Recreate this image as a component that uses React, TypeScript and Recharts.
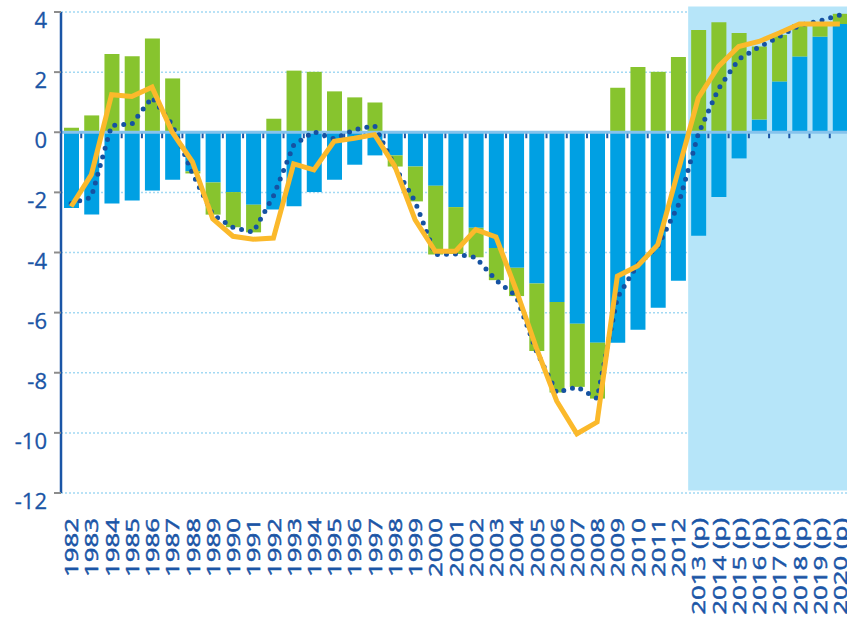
import React from 'react';
import {
  ComposedChart, Bar, Line, XAxis, YAxis, CartesianGrid, ReferenceArea, ReferenceLine,
} from 'recharts';

// categories
const YEARS = [
  '1982', '1983', '1984', '1985', '1986', '1987', '1988', '1989', '1990', '1991',
  '1992', '1993', '1994', '1995', '1996', '1997', '1998', '1999', '2000', '2001',
  '2002', '2003', '2004', '2005', '2006', '2007', '2008', '2009', '2010', '2011',
  '2012', '2013 (p)', '2014 (p)', '2015 (p)', '2016 (p)', '2017 (p)', '2018 (p)',
  '2019 (p)', '2020 (p)',
];

// blue bars
const BLUE = [
  -2.52, -2.74, -2.37, -2.27, -1.94, -1.58, -1.3, -1.67, -1.99, -2.41,
  -2.57, -2.46, -1.99, -1.58, -1.08, -0.77, -0.77, -1.14, -1.78, -2.49,
  -3.18, -3.85, -4.51, -5.03, -5.65, -6.37, -7.0, -7.0, -6.57, -5.84,
  -4.94, -3.44, -2.15, -0.87, 0.42, 1.69, 2.52, 3.18, 3.6,
];

// green bars (stacked on blue)
const GREEN = [
  0.15, 0.56, 2.6, 2.53, 3.12, 1.79, -0.07, -1.07, -1.17, -0.92,
  0.45, 2.05, 2.01, 1.36, 1.16, 0.99, -0.37, -1.16, -2.29, -1.56,
  -0.98, -1.07, -0.94, -2.25, -3.01, -2.1, -1.86, 1.48, 2.17, 2.01,
  2.5, 3.4, 3.66, 3.3, 2.43, 1.55, 1.08, 0.45, 0.34,
];

// dotted dark blue line
const DOTTED = [
  -2.37, -2.16, 0.23, 0.27, 1.16, 0.25, -1.37, -2.74, -3.16, -3.33,
  -2.12, -0.43, 0.02, -0.22, 0.08, 0.22, -1.14, -2.3, -4.07, -4.05,
  -4.16, -4.92, -5.45, -7.28, -8.66, -8.47, -8.86, -5.5, -4.4, -3.8,
  -2.45, -0.06, 1.45, 2.43, 2.83, 3.18, 3.56, 3.7, 3.9,
];

// yellow line
const YELLOW = [
  -2.47, -1.41, 1.25, 1.19, 1.5, 0.0, -0.99, -2.88, -3.46, -3.56,
  -3.52, -1.05, -1.25, -0.3, -0.2, -0.08, -1.13, -2.91, -3.96, -3.96,
  -3.24, -3.48, -5.25, -7.18, -8.94, -10.03, -9.64, -4.79, -4.45, -3.74,
  -1.3, 1.14, 2.19, 2.85, 3.02, 3.3, 3.6, 3.6, 3.6,
];

const Y_TICKS = [4, 2, 0, -2, -4, -6, -8, -10, -12];

const data = YEARS.map((year, i) => ({
  year,
  blue: BLUE[i],
  green: GREEN[i],
  dotted: DOTTED[i],
  yellow: YELLOW[i],
}));

const TEXT_BLUE = '#1a55a6';
const FONT = '"Open Sans", sans-serif';

const YearTick = (props: any) => {
  const { x, y, payload } = props;
  return (
    <g transform={`translate(${x},${y + 17}) rotate(-90) scale(1.36,1)`}>
      <text
        textAnchor="end"
        dominantBaseline="central"
        fill={TEXT_BLUE}
        stroke={TEXT_BLUE}
        strokeWidth={0.5}
        fontSize={19}
        fontFamily={FONT}
      >
        {payload.value}
      </text>
    </g>
  );
};

const ValueTick = (props: any) => {
  const { x, y, payload } = props;
  return (
    <text
      x={x}
      y={y + 7}
      textAnchor="end"
      dominantBaseline="central"
      fill={TEXT_BLUE}
      stroke={TEXT_BLUE}
      strokeWidth={0.3}
      fontSize={22}
      fontFamily={FONT}
    >
      {payload.value}
    </text>
  );
};

// zero line with small ticks at every category boundary
const ZeroLine = (props: any) => {
  const { x1, x2, y1 } = props;
  const band = (x2 - x1) / YEARS.length;
  const marks = [];
  for (let i = 1; i < YEARS.length; i++) {
    const x = x1 + band * i;
    marks.push(<line key={i} x1={x} x2={x} y1={y1} y2={y1 + 6} stroke="#1a55a6" strokeWidth={2} />);
  }
  return (
    <g>
      {marks}
      <line x1={x1} x2={x2} y1={y1} y2={y1} stroke="#86c3ec" strokeWidth={3} />
    </g>
  );
};

export default function App() {
  return (
    <div style={{ position: 'absolute', left: 0, top: 0, width: 847, height: 620, overflow: 'hidden', background: '#fff' }}>
      <ComposedChart
        width={850}
        height={620}
        data={data}
        stackOffset="sign"
        barSize={15}
        margin={{ top: 12, right: 0, bottom: 0, left: 0 }}
      >
        <CartesianGrid vertical={false} stroke="#a3d9f3" strokeDasharray="2 2" strokeWidth={1.5} />
        <ReferenceArea
          x1="2013 (p)"
          x2="2020 (p)"
          y1={-11.92}
          y2={4.18}
          ifOverflow="visible"
          fill="#b6e5f9"
          fillOpacity={1}
          stroke="none"
        />
        <XAxis
          dataKey="year"
          interval={0}
          height={127}
          axisLine={false}
          tickLine={false}
          tick={<YearTick />}
        />
        <YAxis
          domain={[-12, 4]}
          ticks={Y_TICKS}
          interval={0}
          width={61}
          tickSize={7}
          tickMargin={7}
          axisLine={{ stroke: '#1a55a6', strokeWidth: 2.5 }}
          tickLine={{ stroke: '#8c8c8c', strokeWidth: 2 }}
          tick={<ValueTick />}
        />
        <Bar dataKey="blue" stackId="a" fill="#00a0e3" isAnimationActive={false} />
        <Bar dataKey="green" stackId="a" fill="#87c42e" isAnimationActive={false} />
        <ReferenceLine y={0} shape={<ZeroLine />} />
        <Line
          dataKey="dotted"
          type="linear"
          stroke="#1552a2"
          strokeWidth={5}
          strokeDasharray="0 9"
          strokeLinecap="round"
          dot={false}
          isAnimationActive={false}
        />
        <Line
          dataKey="yellow"
          type="linear"
          stroke="#fbb92b"
          strokeWidth={5}
          dot={false}
          isAnimationActive={false}
        />
      </ComposedChart>
    </div>
  );
}
